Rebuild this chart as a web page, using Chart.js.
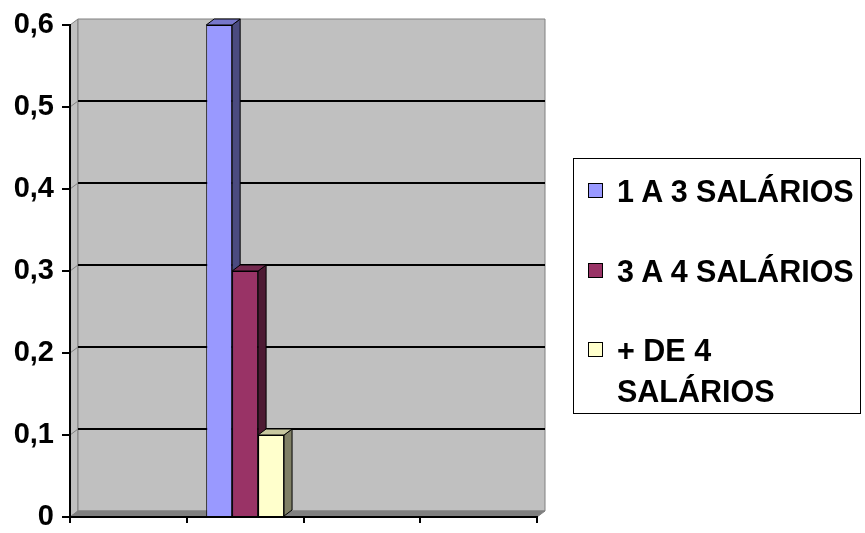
<!DOCTYPE html>
<html>
<head>
<meta charset="utf-8">
<script src="https://cdn.jsdelivr.net/npm/chart.js@4.4.0/dist/chart.umd.min.js"></script>
<style>
    body { margin: 0; background: #fff; }
    #wrap { position: relative; width: 865px; height: 533px; }
    #legend {
        position: absolute; left: 573px; top: 158px; width: 288px; height: 256px;
        border: 1px solid #000; box-sizing: border-box;
        font-family: "Liberation Sans", Arial, sans-serif; font-weight: bold; font-size: 30.5px;
    }
    .item { position: absolute; left: 0; width: 286px; }
    .box { position: absolute; left: 14px; top: 12px; width: 15px; height: 15px; border: 1px solid #000; box-sizing: border-box; }
    .txt { position: absolute; left: 43px; width: 250px; line-height: 41px; white-space: normal; }
</style>
</head>
<body>
<div id="wrap">
    <canvas id="canvas" width="865" height="533"></canvas>
    <div id="legend"></div>
</div>
<script>
// data
var categories = ["", "", "", ""];
var seriesNames = ["1 A 3 SALÁRIOS", "3 A 4 SALÁRIOS", "+ DE 4 SALÁRIOS"];
var faixa1a3 = [null, 0.6, null, null];
var faixa3a4 = [null, 0.3, null, null];
var faixaMais4 = [null, 0.1, null, null];
var yTickLabels = ["0", "0,1", "0,2", "0,3", "0,4", "0,5", "0,6"];

// styles
var frontColors = ["#9999ff", "#993366", "#ffffcc"];
var sideColors = ["#4b4b80", "#4d1a33", "#808066"];
var topColors = ["#7777cc", "#74294f", "#c8c8a0"];
var legendTops = [12, 92, 171];
var DX = 8, DY = 6;

function poly(ctx, pts, fill, stroke, lw) {
    ctx.beginPath();
    ctx.moveTo(pts[0][0], pts[0][1]);
    for (var i = 1; i < pts.length; i++) ctx.lineTo(pts[i][0], pts[i][1]);
    ctx.closePath();
    if (fill) { ctx.fillStyle = fill; ctx.fill(); }
    if (stroke) { ctx.strokeStyle = stroke; ctx.lineWidth = lw; ctx.stroke(); }
}

function line(ctx, x1, y1, x2, y2, color, lw) {
    ctx.beginPath();
    ctx.moveTo(x1, y1);
    ctx.lineTo(x2, y2);
    ctx.strokeStyle = color;
    ctx.lineWidth = lw;
    ctx.stroke();
}

//back wall, side wall and floor
var wallPlugin = {
    id: "wall3d",
    beforeDraw: function(chart) {
        var ctx = chart.ctx, a = chart.chartArea, y = chart.scales.y;
        ctx.save();
        poly(ctx, [[a.left, a.top], [a.left + DX, a.top - DY], [a.left + DX, a.bottom - DY], [a.left, a.bottom]], "#c0c0c0", "#808080", 1);
        poly(ctx, [[a.left + DX, a.top - DY], [a.right + DX, a.top - DY], [a.right + DX, a.bottom - DY], [a.left + DX, a.bottom - DY]], "#c0c0c0", "#808080", 1);
        poly(ctx, [[a.left, a.bottom], [a.left + DX, a.bottom - DY], [a.right + DX, a.bottom - DY], [a.right, a.bottom]], "#808080", "#808080", 1);
        y.ticks.forEach(function(t) {
            var py = y.getPixelForValue(t.value);
            if (t.value <= 0 || py <= a.top + 1) return;
            line(ctx, a.left, py, a.left + DX, py - DY, "#808080", 1);
            line(ctx, a.left + DX, py - DY, a.right + DX, py - DY, "#000", 2);
        });
        ctx.restore();
    },
    //side and top faces of the bars
    beforeDatasetsDraw: function(chart) {
        var ctx = chart.ctx;
        ctx.save();
        chart.data.datasets.forEach(function(ds, i) {
            var meta = chart.getDatasetMeta(i);
            meta.data.forEach(function(bar, j) {
                if (ds.data[j] == null) return;
                var p = bar.getProps(["x", "y", "base", "width"], true);
                var x1 = p.x - p.width / 2, x2 = p.x + p.width / 2;
                poly(ctx, [[x2, p.y], [x2 + DX, p.y - DY], [x2 + DX, p.base - DY], [x2, p.base]], sideColors[i], "#000", 1);
                poly(ctx, [[x1, p.y], [x1 + DX, p.y - DY], [x2 + DX, p.y - DY], [x2, p.y]], topColors[i], "#000", 1);
            });
        });
        ctx.restore();
    }
};

var allSeries = [faixa1a3, faixa3a4, faixaMais4];
var datasets = allSeries.map(function(d, i) {
    return {
        label: seriesNames[i],
        data: d,
        backgroundColor: frontColors[i],
        borderColor: "#000",
        borderWidth: 1,
        categoryPercentage: 0.667,
        barPercentage: 1
    };
});

var ctx = document.getElementById("canvas").getContext("2d");
var myChart = new Chart(ctx, {
    type: "bar",
    data: { labels: categories, datasets: datasets },
    options: {
        responsive: false,
        animation: false,
        layout: { padding: { left: 0, top: 25, right: 328, bottom: 0 } },
        plugins: { legend: { display: false }, tooltip: { enabled: false } },
        scales: {
            x: {
                grid: { offset: true, drawOnChartArea: false, tickLength: 6, color: "#000", lineWidth: 2 },
                border: { color: "#000", width: 2 },
                ticks: { display: true, font: { size: 1 } },
                afterFit: function(s) { s.height = 16; }
            },
            y: {
                min: 0,
                max: 0.6,
                grid: { drawOnChartArea: false, tickLength: 8, color: "#000", lineWidth: 2 },
                border: { color: "#000", width: 2 },
                ticks: {
                    stepSize: 0.1,
                    padding: 8,
                    color: "#000",
                    font: { family: "'Liberation Sans', Arial, sans-serif", weight: "bold", size: 29, lineHeight: 0.5 },
                    callback: function(v) { return yTickLabels[Math.round(v * 10)]; }
                },
                afterFit: function(s) { s.width = 70; }
            }
        }
    },
    plugins: [wallPlugin]
});

//legend
var legend = document.getElementById("legend");
seriesNames.forEach(function(name, i) {
    var item = document.createElement("div");
    item.className = "item";
    item.style.top = legendTops[i] + "px";
    var box = document.createElement("div");
    box.className = "box";
    box.style.background = frontColors[i];
    var txt = document.createElement("div");
    txt.className = "txt";
    txt.textContent = name;
    item.appendChild(box);
    item.appendChild(txt);
    legend.appendChild(item);
});
</script>
</body>
</html>
